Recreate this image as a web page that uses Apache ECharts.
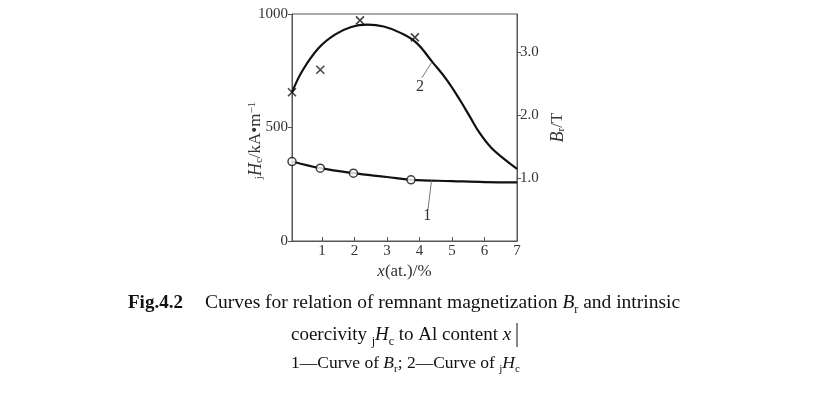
<!DOCTYPE html>
<html>
<head>
<meta charset="UTF-8">
<title>Br and jHc vs Al content</title>
<script src="https://cdn.jsdelivr.net/npm/echarts@6/dist/echarts.min.js"></script>
<style>
html,body{margin:0;padding:0;background:#fff;}
#main{width:826px;height:401px;}
</style>
</head>
<body>
<div id="main"></div>
<script>
var serif = '"Liberation Serif","Times New Roman",serif';

// tick labels
var xTicks = [1, 2, 3, 4, 5, 6, 7];
var brTicks = [1, 2, 3];

// curve 2: jHc (kA/m) against x (at.%)
var hcCurve = [[0.08, 655], [0.4, 750], [0.9, 850], [1.4, 909], [1.9, 943], [2.4, 953],
  [2.9, 945], [3.4, 918], [3.9, 874], [4.4, 788], [4.85, 708], [5.25, 620],
  [5.55, 548], [5.85, 476], [6.2, 412], [6.6, 362], [7.0, 318]];
var hcMeasured = [[0.08, 655], [0.95, 754], [2.17, 972], [3.86, 897]];

// curve 1: Br (T) against x (at.%)
var brCurve = [[0.08, 1.26], [0.95, 1.155], [1.97, 1.075], [3.0, 1.015], [3.74, 0.97],
  [5.0, 0.95], [6.0, 0.935], [7.0, 0.93]];
var brMeasured = [[0.08, 1.26], [0.95, 1.155], [1.97, 1.075], [3.74, 0.97]];

// curve labels: leader start, leader end, text position (data units)
var hcTag = [[4.37, 785], [4.07, 718], [4.02, 681]];
var brTag = [[4.37, 0.955], [4.26, 0.49], [4.24, 0.40]];

var cross = 'path://M0,0L10,10M10,0L0,10';

function tag(pts, txt) {
  return {
    markLine: {
      silent: true, symbol: 'none', animation: false,
      lineStyle: {color: '#777', width: 1, type: 'solid'},
      label: {show: false},
      data: [[{coord: pts[0]}, {coord: pts[1]}]]
    },
    markPoint: {
      silent: true, symbol: 'circle', symbolSize: 1, animation: false,
      itemStyle: {color: 'rgba(0,0,0,0)'},
      label: {show: true, position: 'inside', formatter: txt, color: '#333', fontSize: 16, fontFamily: serif},
      data: [{coord: pts[2]}]
    }
  };
}

var chart = echarts.init(document.getElementById('main'));
var option = {
  animation: false,
  grid: {left: 292, right: 309, top: 14, bottom: 160, show: true, borderColor: '#555', borderWidth: 1},
  xAxis: {
    type: 'value', min: 0.08, max: 7,
    name: '{i|x}(at.)/%', nameLocation: 'middle', nameGap: 22, nameMoveOverlap: false,
    nameTextStyle: {fontFamily: serif, fontSize: 17, color: '#333',
      rich: {i: {fontStyle: 'italic', fontFamily: serif, fontSize: 17, color: '#333'}}},
    axisLine: {lineStyle: {color: '#555'}},
    axisTick: {inside: true, length: 4, lineStyle: {color: '#555'}, customValues: xTicks},
    axisLabel: {fontFamily: serif, fontSize: 15, color: '#333', margin: 3, customValues: xTicks},
    splitLine: {show: false}
  },
  yAxis: [{
    type: 'value', min: 0, max: 1000, interval: 500,
    name: '{s|j}{i|H}{s|c}/kA•m{p|−1}', nameLocation: 'middle', nameGap: 27, nameRotate: 90,
    nameMoveOverlap: false,
    nameTextStyle: {fontFamily: serif, fontSize: 17, color: '#333', padding: [0, 26, 0, 0],
      rich: {
        i: {fontStyle: 'italic', fontFamily: serif, fontSize: 18, color: '#333'},
        s: {fontFamily: serif, fontSize: 11, color: '#333', verticalAlign: 'bottom', lineHeight: 11},
        p: {fontFamily: serif, fontSize: 11, color: '#333', verticalAlign: 'top', lineHeight: 11}
      }},
    axisLine: {show: true, lineStyle: {color: '#555'}},
    axisTick: {show: true, length: 4, lineStyle: {color: '#555'}},
    axisLabel: {fontFamily: serif, fontSize: 15, color: '#333', margin: 4,
      formatter: function (v) { return String(v); }},
    splitLine: {show: false}
  }, {
    type: 'value', min: 0, max: 3.6, position: 'right',
    name: '{i|B}{s|r}/T', nameLocation: 'middle', nameGap: 32, nameRotate: 90,
    nameMoveOverlap: false,
    nameTextStyle: {fontFamily: serif, fontSize: 17, color: '#333',
      rich: {
        i: {fontStyle: 'italic', fontFamily: serif, fontSize: 18, color: '#333'},
        s: {fontFamily: serif, fontSize: 11, color: '#333', verticalAlign: 'bottom', lineHeight: 11}
      }},
    axisLine: {show: true, lineStyle: {color: '#555'}},
    axisTick: {show: true, length: 4, lineStyle: {color: '#555'}, customValues: brTicks},
    axisLabel: {fontFamily: serif, fontSize: 15, color: '#333', margin: 3, customValues: brTicks,
      formatter: function (v) { return v.toFixed(1); }},
    splitLine: {show: false}
  }],
  series: [
    Object.assign({
      type: 'line', data: hcCurve, smooth: 0.4, showSymbol: false, symbol: 'none',
      lineStyle: {color: '#111', width: 2.2}, z: 2
    }, tag(hcTag, '2')),
    Object.assign({
      type: 'line', yAxisIndex: 1, data: brCurve, smooth: 0.4, showSymbol: false, symbol: 'none',
      lineStyle: {color: '#111', width: 2.2}, z: 2
    }, tag(brTag, '1')),
    {
      type: 'scatter', data: hcMeasured, symbol: cross, symbolSize: 8,
      itemStyle: {color: 'none', borderColor: '#111', borderWidth: 1.5}, z: 3
    },
    {
      type: 'scatter', yAxisIndex: 1, data: brMeasured, symbol: 'circle', symbolSize: 8,
      itemStyle: {color: '#fff', borderColor: '#111', borderWidth: 1.5}, z: 3
    }
  ],
  graphic: [
    {type: 'text', x: 128, y: 303, style: {text: 'Fig.4.2', font: 'bold 19px ' + serif, fill: '#111', verticalAlign: 'middle'}},
    {type: 'text', x: 205, y: 303, style: {
      text: 'Curves for relation of remnant magnetization {i|B}{s|r} and intrinsic',
      font: '19.5px ' + serif, fill: '#111', verticalAlign: 'middle', lineHeight: 26,
      rich: {
        i: {fontStyle: 'italic', fontFamily: serif, fontSize: 19.5, fill: '#111', lineHeight: 26},
        s: {fontFamily: serif, fontSize: 12, fill: '#111', verticalAlign: 'bottom', lineHeight: 12}
      }}},
    {type: 'text', x: 291, y: 335, style: {
      text: 'coercivity {s|j}{i|H}{s|c} to Al content {i|x}',
      font: '19px ' + serif, fill: '#111', verticalAlign: 'middle', lineHeight: 26,
      rich: {
        i: {fontStyle: 'italic', fontFamily: serif, fontSize: 19, fill: '#111', lineHeight: 26},
        s: {fontFamily: serif, fontSize: 12, fill: '#111', verticalAlign: 'bottom', lineHeight: 12}
      }}},
    {type: 'line', shape: {x1: 517, y1: 323, x2: 517, y2: 347}, style: {stroke: '#111', lineWidth: 1}},
    {type: 'text', x: 291, y: 363, style: {
      text: '1—Curve of {i|B}{s|r}; 2—Curve of {s|j}{i|H}{s|c}',
      font: '17.5px ' + serif, fill: '#111', verticalAlign: 'middle', lineHeight: 24,
      rich: {
        i: {fontStyle: 'italic', fontFamily: serif, fontSize: 17.5, fill: '#111', lineHeight: 24},
        s: {fontFamily: serif, fontSize: 11, fill: '#111', verticalAlign: 'bottom', lineHeight: 11}
      }}}
  ]
};
chart.setOption(option);
</script>
</body>
</html>
